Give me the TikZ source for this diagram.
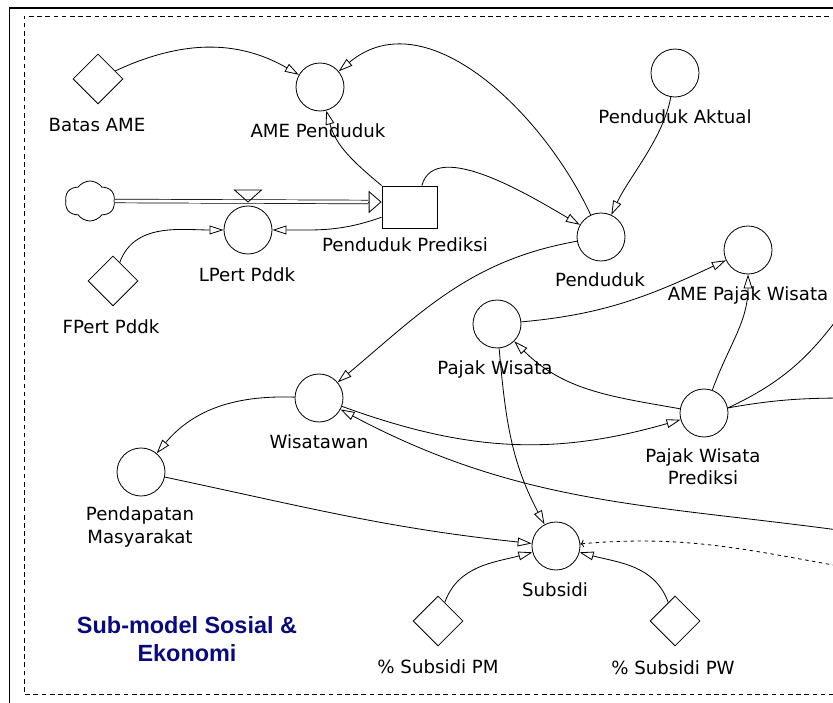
\documentclass[tikz,border=0pt]{standalone}
\usepackage{fontspec}
\setmainfont{DejaVu Sans}
\newfontfamily\judulfont{Liberation Sans}
\usetikzlibrary{arrows.meta,shapes.geometric,shapes.symbols}
\definecolor{judulbiru}{RGB}{10,10,128}

\begin{document}
\begin{tikzpicture}[x=0.3mm, y=0.3mm, line width=0.7pt,
	aux/.style={circle, draw, minimum size=14.4mm, inner sep=0pt},
	konst/.style={diamond, draw, minimum size=15mm, inner sep=0pt},
	lbl/.style={font=\fontsize{15.5}{19}\selectfont, align=center, inner sep=0pt},
	judul/.style={font=\judulfont\bfseries\fontsize{20}{24}\selectfont, text=judulbiru, align=center},
	>={Triangle[open, length=12pt, width=7.5pt]}]
		\clip (0,0) rectangle (833,702);
		% bingkai
		\draw[line width=1.3pt] (9.5,-10) -- (9.5,694) -- (850,694);
		\draw[dash pattern=on 4pt off 3pt] (850,8) -- (24,8) -- (24,686) -- (850,686);

		\draw (98,623) node [konst] (batas) {};
		\draw (97,577) node [lbl] (batasl) {Batas AME};
		\draw (320,615) node [aux] (amep) {};
		\draw (318,571) node [lbl] (amepl) {AME Penduduk};
		\draw (90,501) node [cloud, draw, cloud puffs=6, cloud puff arc=110, aspect=1.3, minimum width=15mm, minimum height=12mm, inner sep=0pt] (awan) {};
		\draw (409.5,495) node [rectangle, draw, minimum width=16.5mm, minimum height=12.6mm, inner sep=0pt] (stock) {};
		\draw (405,457) node [lbl] (stockl) {Penduduk Prediksi};
		\draw (248,472) node [aux] (lpert) {};
		\draw (247,427) node [lbl] (lpertl) {LPert Pddk};
		\draw (113,421) node [konst] (fpert) {};
		\draw (111,375) node [lbl] (fpertl) {FPert Pddk};
		\draw (601,465) node [aux] (pend) {};
		\draw (600,422) node [lbl] (pendl) {Penduduk};
		\draw (675,629) node [aux] (aktual) {};
		\draw (675,585) node [lbl] (aktuall) {Penduduk Aktual};
		\draw (748,452) node [aux] (amepw) {};
		\draw (748,407) node [lbl] (amepwl) {AME Pajak Wisata};
		\draw (497,378) node [aux] (pajak) {};
		\draw (495,333) node [lbl] (pajakl) {Pajak Wisata};
		\draw (704,289) node [aux] (pwp) {};
		\draw (703,235) node [lbl] (pwpl) {Pajak Wisata\\Prediksi};
		\draw (319,304) node [aux] (wis) {};
		\draw (319,260) node [lbl] (wisl) {Wisatawan};
		\draw (141,230) node [aux] (pdpt) {};
		\draw (140,175) node [lbl] (pdptl) {Pendapatan\\Masyarakat};
		\draw (556,156) node [aux] (subsidi) {};
		\draw (555,112) node [lbl] (subsidil) {Subsidi};
		\draw (438,81) node [konst] (spm) {};
		\draw (438,35) node [lbl] (spml) {\% Subsidi PM};
		\draw (675,81) node [konst] (spw) {};
		\draw (673,34) node [lbl] (spwl) {\% Subsidi PW};
		\draw (187,63) node [judul] (judulteks) {Sub-model Sosial \&\\Ekonomi};

		% aliran
		\coordinate (pipeend) at (368,500);
		\coordinate (valve) at (248,500);
		\draw[double, double distance=2.5pt, line width=0.6pt] (awan.east) -- (pipeend);
		\draw[-{Triangle[open, length=11pt, width=19pt]}] (pipeend) -- (pipeend -| stock.west);
		\draw (valve) -- ++(-13.5,12) -- ++(27,0) -- cycle;

		\coordinate (kanan1) at (860,169);
		\coordinate (kanan2) at (850,134);
		\coordinate (kanan3) at (848,398);
		\coordinate (kanan4) at (850,304);

		\path[->]
			(batas) edge [out=25, in=150] (amep)
			(pend) edge [out=115, in=40] (amep)
			(stock.north west) edge [out=140, in=285] (amep)
			(stock.60) edge [out=75, in=150, looseness=0.8] (pend)
			(aktual) edge [out=-100, in=65, looseness=0.8] (pend)
			(stock.200) edge [out=200, in=0] (lpert)
			(fpert) edge [out=70, in=180] (lpert)
			(pend) edge [out=190, in=40] (wis)
			(wis) edge [out=178, in=50] (pdpt)
			(pdpt) edge [out=-12, in=174] (subsidi)
			(wis) edge [out=-20, in=196] (pwp)
			(kanan1) edge [out=172, in=-28] (wis)
			(pajak) edge [out=5, in=205] (amepw)
			(pwp) edge [out=70, in=270] (amepw)
			(pwp) edge [out=170, in=-45] (pajak)
			(pajak) edge [out=-85, in=118] (subsidi)
			(spm) edge [out=70, in=195] (subsidi)
			(spw) edge [out=110, in=-15] (subsidi);
		\draw[dashed, -{To[length=3pt]}] (kanan2) to [out=170, in=5] (subsidi);
		\draw (pwp.12) to [out=25, in=235] (kanan3);
		\draw (pwp.12) to [out=10, in=180] (kanan4);
	\end{tikzpicture}
\end{document}
